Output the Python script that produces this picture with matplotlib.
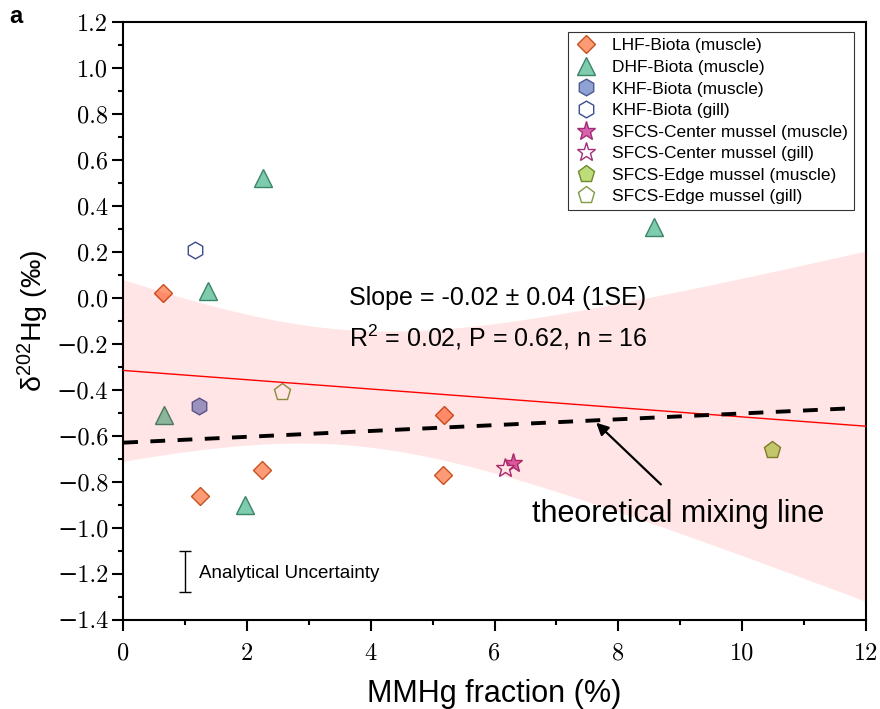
import numpy as np
import matplotlib
matplotlib.use("Agg")
import matplotlib.pyplot as plt
from matplotlib.ticker import MultipleLocator

plt.rcParams["font.family"] = ["Liberation Sans", "DejaVu Sans"]
plt.rcParams["mathtext.fontset"] = "custom"
plt.rcParams["mathtext.rm"] = "Liberation Sans"
plt.rcParams["mathtext.it"] = "Liberation Sans:italic"
plt.rcParams["axes.unicode_minus"] = True

# MMHg fraction (%) and d202Hg (permil) for each group
lhf_x = [0.65, 1.24, 2.25, 5.19, 5.17]
lhf_y = [0.02, -0.86, -0.75, -0.51, -0.77]
dhf_x = [2.26, 1.37, 0.66, 1.97, 8.58]
dhf_y = [0.52, 0.03, -0.51, -0.90, 0.31]
khf_muscle_x = [1.23]
khf_muscle_y = [-0.47]
khf_gill_x = [1.16]
khf_gill_y = [0.21]
center_muscle_x = [6.29]
center_muscle_y = [-0.72]
center_gill_x = [6.17]
center_gill_y = [-0.74]
edge_muscle_x = [10.48]
edge_muscle_y = [-0.66]
edge_gill_x = [2.57]
edge_gill_y = [-0.41]

# theoretical two end-member mixing line
mix_x = [0.0, 11.8]
mix_y = [-0.63, -0.48]

# analytical uncertainty (2SD) bar
unc_x = 1.0
unc_y = -1.19
unc_err = 0.09

stats_lines = ["Slope = -0.02 \u00b1 0.04 (1SE)", "R$^2$ = 0.02, P = 0.62, n = 16"]

groups = [
    (lhf_x, lhf_y, "LHF-Biota (muscle)", "D", 9.5, "#FD9B76", "#C9501F"),
    (dhf_x, dhf_y, "DHF-Biota (muscle)", "^", 12.5, "#7FCBAE", "#3A8468"),
    (khf_muscle_x, khf_muscle_y, "KHF-Biota (muscle)", "h", 12, "#8FA2D2", "#4A5A96"),
    (khf_gill_x, khf_gill_y, "KHF-Biota (gill)", "h", 12, "white", "#3A4C8C"),
    (center_muscle_x, center_muscle_y, "SFCS-Center mussel (muscle)", "*", 14, "#D862AE", "#A02E78"),
    (center_gill_x, center_gill_y, "SFCS-Center mussel (gill)", "*", 14, "white", "#A02E78"),
    (edge_muscle_x, edge_muscle_y, "SFCS-Edge mussel (muscle)", "p", 12.5, "#BEDD7A", "#6E8A2C"),
    (edge_gill_x, edge_gill_y, "SFCS-Edge mussel (gill)", "p", 12.5, "white", "#7E9A46"),
]

fig, ax = plt.subplots(figsize=(8.8, 7.09), dpi=100)
fig.subplots_adjust(left=0.140, right=0.984, bottom=0.126, top=0.969)

for gx, gy, label, mk, ms, fc, ec in groups:
    ax.plot(gx, gy, linestyle="none", marker=mk, markersize=ms,
            markerfacecolor=fc, markeredgecolor=ec, markeredgewidth=1.0,
            label=label, zorder=2)

# least-squares fit with 95% confidence band
all_x = np.concatenate([g[0] for g in groups])
all_y = np.concatenate([g[1] for g in groups])
n = len(all_x)
slope, intercept = np.polyfit(all_x, all_y, 1)
resid = all_y - (slope * all_x + intercept)
s = np.sqrt(np.sum(resid ** 2) / (n - 2))
sxx = np.sum((all_x - all_x.mean()) ** 2)
t_crit = 2.145  # t(0.975, df=14)
xf = np.linspace(0, 12, 200)
yf = slope * xf + intercept
half = t_crit * s * np.sqrt(1.0 / n + (xf - all_x.mean()) ** 2 / sxx)
ax.fill_between(xf, yf - half, yf + half, color="red", alpha=0.1,
                linewidth=0, zorder=3)
ax.plot(xf, yf, color="red", linewidth=1.0, zorder=4)

ax.plot(mix_x, mix_y, color="black", linewidth=2.8, dashes=(3.8, 3.2), zorder=5)
ax.annotate("", xy=(7.61, -0.535), xytext=(8.72, -0.82),
            arrowprops=dict(arrowstyle="-|>", color="black", lw=1.6,
                            mutation_scale=18), zorder=6)
ax.text(8.97, -0.94, "theoretical mixing line", fontsize=22,
        ha="center", va="center", zorder=6)

ax.text(3.65, 0.0, stats_lines[0], fontsize=18, ha="left", va="center")
ax.text(3.65, -0.17, stats_lines[1], fontsize=18, ha="left", va="center")

ax.errorbar([unc_x], [unc_y], yerr=[unc_err], fmt="none", ecolor="black",
            elinewidth=1.0, capsize=4, capthick=1.0)
ax.text(unc_x + 0.23, unc_y - 0.01, "Analytical Uncertainty", fontsize=13.5,
        ha="left", va="center")

ax.set_xlim(0, 12)
ax.set_ylim(-1.4, 1.2)
ax.xaxis.set_major_locator(MultipleLocator(2))
ax.xaxis.set_minor_locator(MultipleLocator(1))
ax.yaxis.set_major_locator(MultipleLocator(0.2))
ax.yaxis.set_minor_locator(MultipleLocator(0.1))
ax.tick_params(which="major", direction="out", length=7.7, width=1.5,
               top=False, right=False)
ax.tick_params(which="minor", direction="out", length=3.8, width=1.5,
               top=False, right=False)
ax.tick_params(axis="x", which="major", pad=9)
ax.tick_params(axis="y", which="major", pad=3)
ax.yaxis.set_major_formatter(plt.FuncFormatter(lambda v, p: f"{v:.1f}".replace("-", "\u2212")))
ax.xaxis.set_major_formatter(plt.FuncFormatter(lambda v, p: f"{v:.0f}"))
for lab in ax.get_xticklabels() + ax.get_yticklabels():
    lab.set_fontfamily(["cmr10", "DejaVu Serif"])
    lab.set_fontsize(17.5)
for sp in ax.spines.values():
    sp.set_linewidth(1.5)

ax.set_xlabel("MMHg fraction (%)", fontsize=22, labelpad=10)
ax.set_ylabel("\u03b4$^{202}$Hg (\u2030)", fontsize=20.5, labelpad=4)

leg = ax.legend(loc="upper right", bbox_to_anchor=(0.984, 0.983),
                borderaxespad=0, fontsize=12.5, frameon=True, fancybox=False,
                labelspacing=0.37, handletextpad=0.8, borderpad=0.35,
                handlelength=1.4)
leg.get_frame().set_edgecolor("black")
leg.get_frame().set_linewidth(0.8)

fig.text(0.011, 0.977, "a", fontsize=17, fontweight="bold", ha="left", va="center")

fig.savefig("out.png", dpi=100)
